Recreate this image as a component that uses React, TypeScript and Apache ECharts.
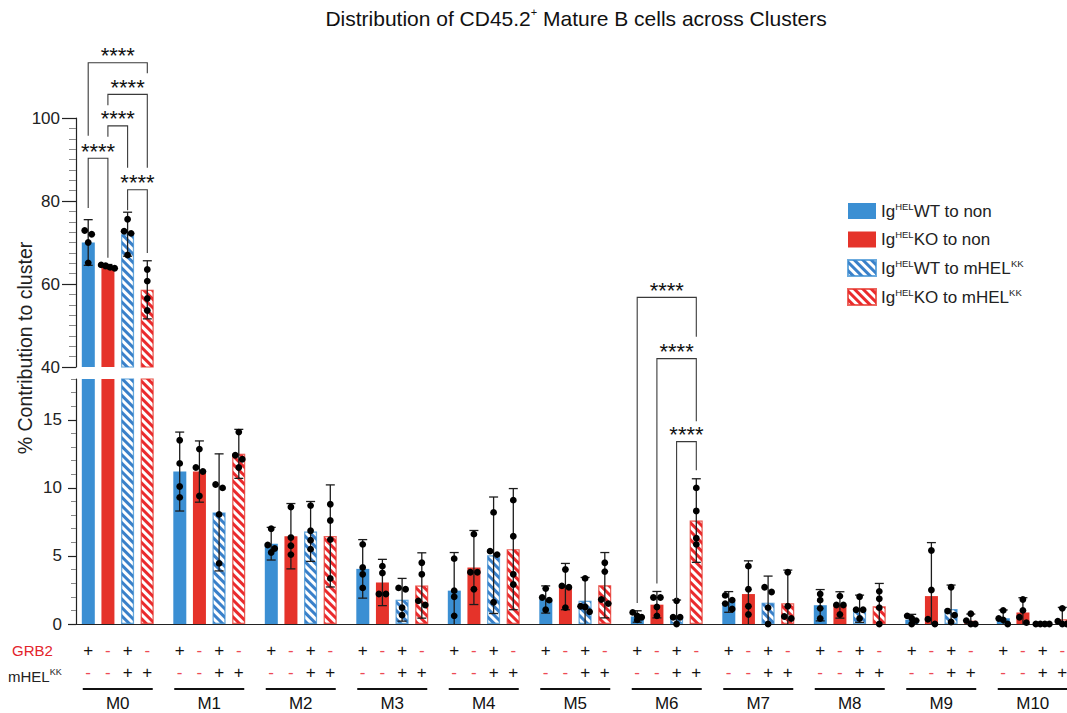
import React, { useEffect, useRef } from 'react';
import * as echarts from 'echarts';

const FONT = '"Liberation Sans", Arial, Helvetica, sans-serif';

const clusters = ['M0', 'M1', 'M2', 'M3', 'M4', 'M5', 'M6', 'M7', 'M8', 'M9', 'M10'];
const groupNames = ['IgHELWT to non', 'IgHELKO to non', 'IgHELWT to mHELKK', 'IgHELKO to mHELKK'];
const groupRich = [
  '{n|Ig}{s|HEL}{n|WT to non}',
  '{n|Ig}{s|HEL}{n|KO to non}',
  '{n|Ig}{s|HEL}{n|WT to mHEL}{s|KK}',
  '{n|Ig}{s|HEL}{n|KO to mHEL}{s|KK}',
];

// bar heights (mean %)
const wtNonMean = [70.0, 11.2, 5.9, 4.05, 2.45, 1.8, 0.55, 1.62, 1.38, 0.32, 0.42];
const koNonMean = [64.2, 11.2, 6.45, 3.05, 4.15, 2.75, 1.42, 2.2, 1.4, 2.05, 0.85];
const wtMhelMean = [72.0, 8.2, 6.8, 1.78, 5.05, 1.7, 0.6, 1.57, 1.12, 1.1, 0.0];
const koMhelMean = [58.6, 12.5, 6.47, 2.83, 5.5, 2.85, 7.6, 1.52, 1.3, 0.24, 0.34];

// error bar half-lengths
const wtNonErr = [5.5, 2.9, 1.2, 2.15, 2.8, 1.0, 0.42, 0.76, 1.15, 0.39, 0.61];
const koNonErr = [0.5, 2.25, 2.4, 1.7, 2.72, 1.7, 0.97, 2.44, 0.97, 3.93, 1.08];
const wtMhelErr = [5.3, 4.3, 2.2, 1.57, 4.28, 1.72, 1.16, 1.95, 1.0, 1.76, 0.0];
const koMhelErr = [7.0, 1.8, 3.75, 2.4, 4.45, 2.4, 3.07, 2.44, 1.68, 0.49, 0.88];

// individual mice
const wtNonPts = [
  [72.0, 72.9, 70.0, 65.1], [13.5, 11.8, 10.1, 9.3], [7.0, 5.8, 5.55, 5.25], [5.85, 4.15, 3.65, 2.65],
  [4.8, 2.45, 2.0, 0.6], [2.6, 1.95, 1.75, 1.05], [0.85, 0.6, 0.5, 0.3], [2.1, 1.75, 1.5, 1.1],
  [2.2, 1.75, 1.15, 0.4], [0.6, 0.42, 0.25, 0.0], [1.0, 0.4, 0.3, 0.0],
];
const koNonPts = [
  [64.6, 64.4, 64.0, 63.8], [12.85, 11.5, 11.2, 9.4], [8.6, 6.35, 5.75, 5.1], [4.25, 3.75, 2.2, 2.2],
  [6.6, 3.8, 3.8, 2.55], [4.0, 2.8, 2.7, 1.2], [1.95, 1.95, 1.25, 0.6], [4.25, 2.55, 1.3, 0.7],
  [2.05, 1.4, 1.4, 0.7], [5.4, 2.5, 0.35, 0.0], [1.8, 1.0, 0.5, 0.1],
];
const wtMhelPts = [
  [75.6, 72.7, 72.2, 67.0], [10.25, 10.0, 8.05, 4.45], [8.7, 6.85, 6.15, 5.5], [2.65, 2.55, 1.2, 0.65],
  [8.2, 5.35, 5.1, 1.6], [3.35, 1.3, 1.25, 0.9], [1.7, 0.5, 0.5, 0.0], [2.7, 2.35, 1.2, 0.0],
  [2.0, 1.05, 1.05, 0.4], [2.7, 0.95, 0.65, 0.15], [0.0, 0.0, 0.0, 0.0],
];
const koMhelPts = [
  [63.5, 60.7, 56.5, 53.6], [14.1, 12.4, 12.1, 11.5], [8.8, 7.6, 6.2, 3.35], [4.5, 3.65, 1.7, 1.4],
  [9.1, 6.45, 3.65, 2.9], [4.5, 3.85, 1.8, 1.5], [10.0, 8.3, 6.3, 5.85], [3.8, 1.3, 0.55, 0.4],
  [2.4, 1.85, 1.2, 0.0], [0.75, 0.25, 0.0, 0.0], [1.15, 0.2, 0.0, 0.0],
];

// significance brackets: [cluster, fromGroup, toGroup, lineValue, leftEndValue, rightEndValue]
const upperBrackets = [
  [0, 0, 3, 113.3, 95.7, 110.8],
  [0, 1, 3, 105.7, 103.1, 88.0],
  [0, 1, 2, 98.1, 95.5, 88.0],
  [0, 0, 1, 90.3, 78.3, 66.3],
  [0, 2, 3, 82.7, 77.8, 67.5],
];
const lowerBrackets = [
  [6, 0, 3, 24.0, 1.54, 21.1],
  [6, 1, 3, 19.5, 2.98, 14.9],
  [6, 2, 3, 13.4, 1.76, 11.3],
];
const sigLabel = '****';

const grb2Row = ['+', '-', '+', '-'];
const mhelRow = ['-', '-', '+', '+'];

const UPPER_MIN = 40, UPPER_MAX = 100, LOWER_MIN = 0, LOWER_MAX = 18;

const BLUE = '#3b8fd3';
const RED = '#e5332a';
const BLUE_STRIPE = '#3a80c9';
const RED_STRIPE = '#ea2a2d';
const BAR_W = 13;
const BAR_STEP = 19.7;

const means = [wtNonMean, koNonMean, wtMhelMean, koMhelMean];
const errs = [wtNonErr, koNonErr, wtMhelErr, koMhelErr];
const pts = [wtNonPts, koNonPts, wtMhelPts, koMhelPts];

const itemStyles: any[] = [
  { color: BLUE },
  { color: RED },
  {
    color: '#ffffff', borderColor: 'rgba(59,143,211,0.5)', borderWidth: 1.2,
    decal: { symbol: 'rect', symbolSize: 1, dashArrayX: [1, 0], dashArrayY: [3, 3], rotation: Math.PI / 4, color: BLUE_STRIPE },
  },
  {
    color: '#ffffff', borderColor: 'rgba(229,51,42,0.5)', borderWidth: 1.2,
    decal: { symbol: 'rect', symbolSize: 1, dashArrayX: [1, 0], dashArrayY: [3, 3], rotation: Math.PI / 4, color: RED_STRIPE },
  },
];

const offsetOf = (g: number) => (g - 1.5) * BAR_STEP;

function swarm(ys: number[]): number[] {
  const order = ys.map((_, i) => i).sort((a, b) => ys[a] - ys[b]);
  const offs = new Array(ys.length).fill(0);
  let row: number[] = [];
  const flush = () => {
    const n = row.length;
    const sp = n > 2 ? 4.5 : 7;
    row.forEach((id, k) => { offs[id] = (k - (n - 1) / 2) * sp; });
    row = [];
  };
  for (const id of order) {
    if (row.length && ys[id] - ys[row[0]] > 6) flush();
    row.push(id);
  }
  flush();
  return offs;
}

function makeDotsSeries(g: number, panel: 'upper' | 'lower') {
  const axisMin = panel === 'upper' ? UPPER_MIN : LOWER_MIN;
  const data: number[][] = [];
  clusters.forEach((_, i) => {
    const m = means[g][i];
    const keep = panel === 'upper' ? m > UPPER_MIN : m < LOWER_MAX;
    if (keep) data.push([i, m, errs[g][i], ...pts[g][i]]);
  });
  return {
    type: 'custom',
    xAxisIndex: panel === 'upper' ? 0 : 1,
    yAxisIndex: panel === 'upper' ? 0 : 2,
    clip: false,
    z: 5,
    silent: true,
    encode: { x: 0, y: 1 },
    data,
    renderItem: (params: any, api: any) => {
      const cat = api.value(0);
      const mean = api.value(1);
      const err = api.value(2);
      const cx = api.coord([cat, mean])[0] + offsetOf(g);
      const children: any[] = [];
      const lineStyle = { stroke: '#1c1c1c', lineWidth: 1.3 };
      if (err > 0) {
        const lo = Math.max(mean - err, axisMin);
        const yTop = api.coord([cat, mean + err])[1];
        const yBot = api.coord([cat, lo])[1];
        children.push({ type: 'line', shape: { x1: cx, y1: yTop, x2: cx, y2: yBot }, style: lineStyle });
        children.push({ type: 'line', shape: { x1: cx - 4.5, y1: yTop, x2: cx + 4.5, y2: yTop }, style: lineStyle });
        if (mean - err > axisMin) {
          children.push({ type: 'line', shape: { x1: cx - 4.5, y1: yBot, x2: cx + 4.5, y2: yBot }, style: lineStyle });
        }
      }
      const vals = [api.value(3), api.value(4), api.value(5), api.value(6)];
      const ys = vals.map((v) => api.coord([cat, v])[1]);
      const offs = swarm(ys);
      ys.forEach((y, k) => {
        children.push({ type: 'circle', shape: { cx: cx + offs[k], cy: y, r: 3.4 }, style: { fill: '#000' } });
      });
      return { type: 'group', children };
    },
  };
}

function makeBracketSeries(panel: 'upper' | 'lower') {
  const data = panel === 'upper' ? upperBrackets : lowerBrackets;
  return {
    type: 'custom',
    xAxisIndex: panel === 'upper' ? 0 : 1,
    yAxisIndex: panel === 'upper' ? 0 : 2,
    clip: false,
    z: 6,
    silent: true,
    encode: { x: 0, y: 3 },
    data,
    renderItem: (params: any, api: any) => {
      const cat = api.value(0);
      const from = api.value(1);
      const to = api.value(2);
      const base = api.coord([cat, api.value(3)]);
      const x1 = base[0] + offsetOf(from);
      const x2 = base[0] + offsetOf(to);
      const yl = api.coord([cat, api.value(4)])[1];
      const yr = api.coord([cat, api.value(5)])[1];
      return {
        type: 'group',
        children: [
          {
            type: 'polyline',
            shape: { points: [[x1, yl], [x1, base[1]], [x2, base[1]], [x2, yr]] },
            style: { stroke: '#3a3a3a', lineWidth: 1.1, fill: null },
          },
          {
            type: 'text',
            x: (x1 + x2) / 2,
            y: base[1] - 7,
            style: { text: sigLabel, align: 'center', verticalAlign: 'middle', fontSize: 22, fontFamily: FONT, fill: '#111' },
          },
        ],
      };
    },
  };
}

const tableSeries = {
  type: 'custom',
  xAxisIndex: 1,
  yAxisIndex: 2,
  clip: false,
  silent: true,
  z: 5,
  encode: { x: 0, y: 1 },
  data: clusters.map((_, i) => [i, 0]),
  renderItem: (params: any, api: any) => {
    const cat = api.value(0);
    const p = api.coord([cat, 0]);
    const children: any[] = [];
    for (let k = 0; k < 4; k++) {
      const x = p[0] + offsetOf(k);
      [grb2Row[k], mhelRow[k]].forEach((sym, r) => {
        children.push({
          type: 'text',
          x,
          y: p[1] + 26 + r * 22,
          style: {
            text: sym, align: 'center', verticalAlign: 'middle', fontFamily: FONT,
            fontSize: 17, fill: sym === '+' ? '#111' : '#ee4a55',
          },
        });
      });
    }
    return { type: 'group', children };
  },
};

function buildOption() {
  const barSeries: any[] = [];
  for (let g = 0; g < 4; g++) {
    barSeries.push({
      name: groupNames[g], type: 'bar', xAxisIndex: 0, yAxisIndex: 0,
      barWidth: BAR_W, barGap: '51%', itemStyle: itemStyles[g], silent: true,
      data: means[g].map((v) => (v > UPPER_MIN ? v : '-')),
    });
  }
  for (let g = 0; g < 4; g++) {
    barSeries.push({
      name: groupNames[g], type: 'bar', xAxisIndex: 1, yAxisIndex: 2,
      barWidth: BAR_W, barGap: '51%', itemStyle: itemStyles[g], silent: true,
      data: means[g],
    });
  }
  const customSeries: any[] = [];
  for (let g = 0; g < 4; g++) {
    customSeries.push(makeDotsSeries(g, 'upper'));
    customSeries.push(makeDotsSeries(g, 'lower'));
  }
  customSeries.push(makeBracketSeries('upper'));
  customSeries.push(makeBracketSeries('lower'));
  customSeries.push(tableSeries);

  const labelStyle = { fontSize: 17, color: '#222', fontFamily: FONT };
  return {
    animation: false,
    backgroundColor: '#ffffff',
    textStyle: { fontFamily: FONT },
    grid: [
      { left: 72, width: 1006.5, top: 118, height: 249 },
      { left: 72, width: 1006.5, top: 379, height: 245 },
    ],
    xAxis: [
      { type: 'category', gridIndex: 0, data: clusters, show: false },
      {
        type: 'category', gridIndex: 1, data: clusters,
        axisLine: { lineStyle: { color: '#222', width: 1.2 } },
        axisTick: { alignWithLabel: true, length: 6, lineStyle: { color: '#666' } },
        axisLabel: {
          margin: 64,
          formatter: (v: string) => `{bar|}\n{name|${v}}`,
          rich: {
            bar: { width: 70, height: 2, lineHeight: 2, backgroundColor: '#111' },
            name: { fontSize: 17, lineHeight: 26, color: '#111', fontFamily: FONT },
          },
        },
      },
    ],
    yAxis: [
      {
        type: 'value', gridIndex: 0, position: 'left', min: UPPER_MIN, max: UPPER_MAX, interval: 2.5, offset: -4,
        axisLine: { show: true, lineStyle: { color: '#222', width: 1.2 } },
        axisTick: { show: true, length: 7, lineStyle: { color: '#888' } },
        axisLabel: { show: false }, splitLine: { show: false },
      },
      {
        type: 'value', gridIndex: 0, position: 'left', min: UPPER_MIN, max: UPPER_MAX, interval: 20, offset: -4,
        axisLine: { show: false },
        axisTick: { show: true, length: 14, lineStyle: { color: '#222', width: 1.2 } },
        axisLabel: { ...labelStyle, margin: 16 }, splitLine: { show: false },
      },
      {
        type: 'value', gridIndex: 1, position: 'left', min: LOWER_MIN, max: LOWER_MAX, interval: 1, offset: -4,
        axisLine: { show: true, lineStyle: { color: '#222', width: 1.2 } },
        axisTick: { show: true, length: 5, lineStyle: { color: '#888' } },
        axisLabel: { show: false }, splitLine: { show: false },
      },
      {
        type: 'value', gridIndex: 1, position: 'left', min: LOWER_MIN, max: LOWER_MAX, interval: 5, offset: -4,
        axisLine: { show: false },
        axisTick: { show: true, length: 8, lineStyle: { color: '#222', width: 1.2 } },
        axisLabel: { ...labelStyle, margin: 14, showMaxLabel: false, formatter: (v: number) => (v % 5 === 0 ? String(v) : '') },
        splitLine: { show: false },
      },
    ],
    legend: {
      data: groupNames,
      orient: 'vertical',
      left: 842,
      top: 196,
      icon: 'rect',
      itemWidth: 28,
      itemHeight: 16,
      itemGap: 10,
      selectedMode: false,
      formatter: (name: string) => groupRich[groupNames.indexOf(name)],
      textStyle: {
        rich: {
          n: { fontSize: 17, lineHeight: 20, color: '#222', fontFamily: FONT },
          s: { fontSize: 9.5, lineHeight: 9, verticalAlign: 'top', color: '#222', fontFamily: FONT },
        },
      },
    },
    graphic: [
      {
        type: 'text', x: 576, y: 18,
        style: {
          text: '{a|Distribution of CD45.2}{s|+}{a| Mature B cells across Clusters}',
          align: 'center', verticalAlign: 'middle',
          rich: {
            a: { fontSize: 21, lineHeight: 24, fill: '#111', fontFamily: FONT },
            s: { fontSize: 11, lineHeight: 11, verticalAlign: 'top', fill: '#111', fontFamily: FONT },
          },
        },
      },
      {
        type: 'text', x: 25, y: 348, rotation: Math.PI / 2,
        style: { text: '% Contribution to cluster', align: 'center', verticalAlign: 'middle', fontSize: 19.5, fill: '#222', fontFamily: FONT },
      },
      {
        type: 'text', x: 12, y: 650,
        style: { text: 'GRB2', align: 'left', verticalAlign: 'middle', fontSize: 15, fill: '#e3242b', fontFamily: FONT },
      },
      {
        type: 'text', x: 8, y: 676,
        style: {
          text: '{a|mHEL}{s|KK}', align: 'left', verticalAlign: 'middle',
          rich: {
            a: { fontSize: 15, lineHeight: 18, fill: '#222', fontFamily: FONT },
            s: { fontSize: 9, lineHeight: 9, verticalAlign: 'top', fill: '#222', fontFamily: FONT },
          },
        },
      },
    ],
    series: [...barSeries, ...customSeries],
  };
}

export default function App() {
  const ref = useRef<HTMLDivElement>(null);
  useEffect(() => {
    const chart = echarts.init(ref.current as HTMLDivElement, null, { renderer: 'svg' });
    chart.setOption(buildOption() as any);
    return () => chart.dispose();
  }, []);
  return (
    <div style={{ position: 'fixed', left: 0, top: 0, width: 1067, height: 713, overflow: 'hidden', background: '#fff' }}>
      <div ref={ref} style={{ width: 1100, height: 713 }} />
    </div>
  );
}
